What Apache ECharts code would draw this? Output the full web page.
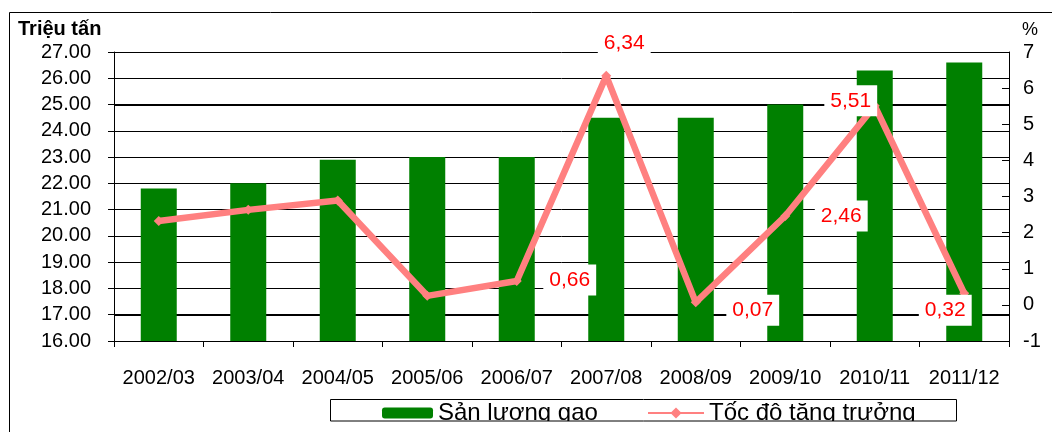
<!DOCTYPE html>
<html>
<head>
<meta charset="utf-8">
<script src="https://cdn.jsdelivr.net/npm/echarts@6/dist/echarts.min.js"></script>
<style>
  html, body { margin: 0; padding: 0; background: #fff; }
  #chart { width: 1052px; height: 432px; }
</style>
</head>
<body>
<div id="chart"></div>
<script>
// niên vụ
const categories = ['2002/03', '2003/04', '2004/05', '2005/06', '2006/07',
  '2007/08', '2008/09', '2009/10', '2010/11', '2011/12'];
// sản lượng gạo, triệu tấn
const riceOutput = [21.8, 22.0, 22.9, 23.0, 23.0, 24.5, 24.5, 25.0, 26.3, 26.6];
// tốc độ tăng trưởng, %
const growthRate = [2.32, 2.63, 2.89, 0.25, 0.66, 6.34, 0.07, 2.46, 5.51, 0.32];
// which points get a value label
const labelled = [false, false, false, false, true, true, true, true, true, true];
// the two thick grid lines of the original
const boldLines = [17, 25];

const font = 'Liberation Sans, Arial, sans-serif';
// where each label box sits relative to its point
const labelOffsets = {
  4: [53, -1],
  5: [18, -33],
  6: [57, 8],
  7: [56, 0],
  8: [-24, -5],
  9: [-19, 17]
};

function fmtComma(v) {
  return v.toFixed(2).replace('.', ',');
}

let lineData = growthRate.map(function(v, i) {
  if (!labelled[i]) {
    return { value: v, label: { show: false } };
  }
  return {
    value: v,
    label: {
      show: true,
      position: 'inside',
      offset: labelOffsets[i]
    }
  };
});

let chart = echarts.init(document.getElementById('chart'), null, {
  renderer: 'canvas'
});

let option = {
  animation: false,
  backgroundColor: '#fff',
  textStyle: { fontFamily: font },
  title: [{
    text: 'Triệu tấn',
    left: 18,
    top: 19,
    padding: 0,
    textStyle: { fontFamily: font, fontSize: 20, fontWeight: 'bold', color: '#000' }
  }, {
    text: '%',
    left: 1022,
    top: 21,
    padding: 0,
    textStyle: { fontFamily: font, fontSize: 18, fontWeight: 'normal', color: '#000' }
  }],
  grid: {
    left: 114,
    right: 43,
    top: 52,
    bottom: 91
  },
  legend: [{
    data: ['Sản lượng gạo'],
    left: 382,
    top: 401,
    padding: 0,
    itemWidth: 51,
    itemHeight: 11,
    selectedMode: false,
    textStyle: { fontFamily: font, fontSize: 24, lineHeight: 24, color: '#000' }
  }, {
    data: ['Tốc độ tăng trưởng'],
    left: 647,
    top: 401,
    padding: 0,
    itemWidth: 56,
    itemHeight: 14,
    selectedMode: false,
    textStyle: { fontFamily: font, fontSize: 24, lineHeight: 24, color: '#000' }
  }],
  xAxis: {
    type: 'category',
    data: categories,
    boundaryGap: true,
    axisLine: { show: true, onZero: false, lineStyle: { color: '#000', width: 1 } },
    axisTick: { show: true, length: 6, lineStyle: { color: '#000' } },
    axisLabel: { fontFamily: font, fontSize: 20, color: '#000', margin: 27, interval: 0 },
    splitLine: { show: false }
  },
  yAxis: [{
    type: 'value',
    min: 16,
    max: 27,
    interval: 1,
    position: 'left',
    axisLine: { show: true, lineStyle: { color: '#000', width: 1 } },
    axisTick: { show: true, length: 6, lineStyle: { color: '#000' } },
    axisLabel: {
      fontFamily: font, fontSize: 20, color: '#000', margin: 23,
      formatter: function(v) { return v.toFixed(2); }
    },
    splitLine: { show: true, lineStyle: { color: '#000', width: 1 } }
  }, {
    type: 'value',
    min: -1,
    max: 7,
    interval: 1,
    position: 'right',
    axisLine: { show: true, lineStyle: { color: '#000', width: 1 } },
    axisTick: { show: true, inside: true, length: 7, lineStyle: { color: '#000' } },
    axisLabel: { fontFamily: font, fontSize: 20, color: '#000', margin: 14 },
    splitLine: { show: false }
  }],
  series: [{
    name: 'Sản lượng gạo',
    type: 'bar',
    yAxisIndex: 0,
    data: riceOutput,
    barWidth: 36,
    itemStyle: { color: '#008000' },
    z: 2,
    markLine: {
      silent: true,
      z: 1,
      symbol: ['none', 'none'],
      label: { show: false },
      lineStyle: { color: '#000', width: 2, type: 'solid' },
      data: boldLines.map(function(v) { return { yAxis: v }; })
    }
  }, {
    name: 'Tốc độ tăng trưởng',
    type: 'line',
    yAxisIndex: 1,
    data: lineData,
    z: 3,
    symbol: 'diamond',
    symbolSize: 10,
    showAllSymbol: true,
    lineStyle: { color: '#ff8080', width: 6.5 },
    itemStyle: { color: '#ff8080' },
    label: {
      fontFamily: font,
      fontSize: 21,
      color: '#ff0000',
      backgroundColor: '#fff',
      padding: [5, 6, 5, 6],
      formatter: function(p) { return fmtComma(p.value); }
    }
  }],
  graphic: [{
    type: 'rect',
    z: 0,
    silent: true,
    shape: { x: 9.5, y: 12.5, width: 1200, height: 600 },
    style: { fill: null, stroke: '#000', lineWidth: 1 }
  }, {
    // the legend box cuts its own text off
    type: 'rect',
    z: 100,
    silent: true,
    shape: { x: 331, y: 421, width: 624, height: 11 },
    style: { fill: '#fff' }
  }, {
    type: 'rect',
    z: 101,
    silent: true,
    shape: { x: 330.5, y: 399.5, width: 626, height: 21.5 },
    style: { fill: null, stroke: '#000', lineWidth: 1 }
  }]
};

chart.setOption(option);
</script>
</body>
</html>
